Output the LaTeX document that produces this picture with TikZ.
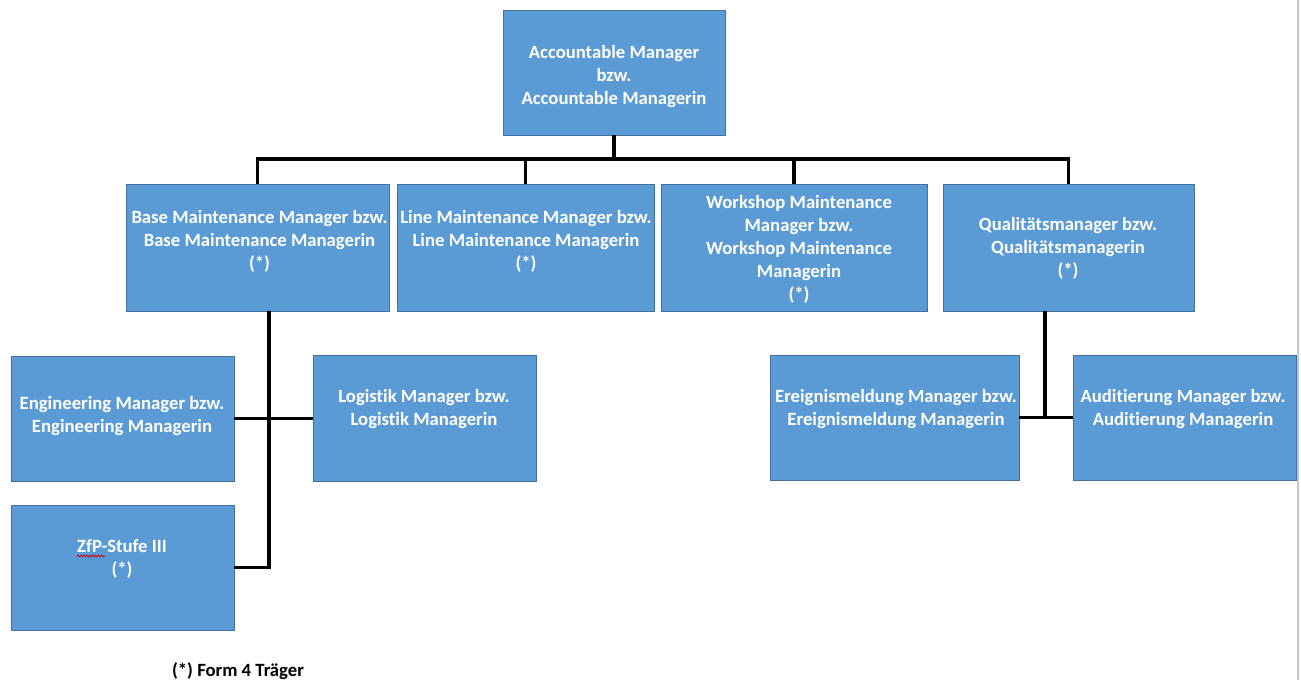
\documentclass[tikz,border=0pt]{standalone}
\usepackage{fontspec}
\setmainfont{Carlito}[Ligatures=NoCommon]
\usetikzlibrary{decorations.pathmorphing}
\definecolor{boxfill}{RGB}{91,155,213}
\definecolor{boxline}{RGB}{65,113,156}
\begin{document}
\begin{tikzpicture}[x=1pt,y=-1pt,
  orgbox/.style={draw=boxline,fill=boxfill,line width=0.9pt,inner sep=0pt,minimum height=125pt},
  lbl/.style={text=white,font=\bfseries\fontsize{18.7}{23}\selectfont,align=center,inner sep=0pt},
  conn/.style={draw=black,line width=3.8pt}]
\useasboundingbox (0,0) rectangle (1301,680);
\fill[white] (0,0) rectangle (1301,680);
\draw[black!22,line width=1.2pt] (1298,0) -- (1298,680);

% boxes
\node[orgbox,minimum width=222pt] (top) at (614,72.5) {};
\node[orgbox,minimum width=263pt,minimum height=127pt] (base) at (257.5,247.5) {};
\node[orgbox,minimum width=257pt,minimum height=127pt] (line) at (525.5,247.5) {};
\node[orgbox,minimum width=266pt,minimum height=127pt] (workshop) at (794,247.5) {};
\node[orgbox,minimum width=251pt,minimum height=127pt] (quality) at (1068.5,247.5) {};
\node[orgbox,minimum width=223pt] (engineering) at (122.5,418.5) {};
\node[orgbox,minimum width=223pt,minimum height=126pt] (logistik) at (424.5,418) {};
\node[orgbox,minimum width=223pt] (zfp) at (122.5,567.5) {};
\node[orgbox,minimum width=249pt] (ereignis) at (894.5,417.5) {};
\node[orgbox,minimum width=223pt] (audit) at (1184.5,417.5) {};

% connectors
\coordinate (bus) at (614,159);
\draw[conn] (top.south) -- (bus);
\draw[conn] (base.north) |- (bus) -| (quality.north);
\draw[conn] (line.north) -- (line.north |- bus);
\draw[conn] (workshop.north) -- (workshop.north |- bus);
\draw[conn] ([xshift=11.5pt]base.south) |- (zfp.east);
\draw[conn] (engineering.east) -- (engineering.east -| logistik.west);
\draw[conn] ([xshift=-23.5pt]quality.south) -- ([xshift=-23.5pt]quality.south |- ereignis.east);
\draw[conn] (ereignis.east) -- (audit.west);

% texts
\node[lbl] (ttop) at (614,77) {Accountable Manager\\bzw.\\Accountable Managerin};
\node[lbl] (tbase) at (259.5,241) {Base Maintenance Manager bzw.\\Base Maintenance Managerin\\(*)};
\node[lbl] (tline) at (526,241) {Line Maintenance Manager bzw.\\Line Maintenance Managerin\\(*)};
\node[lbl] (tworkshop) at (799,249) {Workshop Maintenance\\Manager bzw.\\Workshop Maintenance\\Managerin\\(*)};
\node[lbl] (tquality) at (1068,248) {Qualitätsmanager bzw.\\Qualitätsmanagerin\\(*)};
\node[lbl] (tengineering) at (122,416) {Engineering Manager bzw.\\Engineering Managerin};
\node[lbl] (tlogistik) at (424,409) {Logistik Manager bzw.\\Logistik Managerin};
\node[lbl] (tzfp) at (122,559) {ZfP-Stufe III\\(*)};
\node[lbl] (tereignis) at (896,409) {Ereignismeldung Manager bzw.\\Ereignismeldung Managerin};
\node[lbl] (taudit) at (1183,409) {Auditierung Manager bzw.\\Auditierung Managerin};
\draw[red!80!black,line width=0.8pt,decorate,decoration={snake,amplitude=0.9pt,segment length=3pt}] (77,556) -- (105,556);

\node[lbl,text=black] (note) at (238,671) {(*) Form 4 Träger};
\end{tikzpicture}
\end{document}
